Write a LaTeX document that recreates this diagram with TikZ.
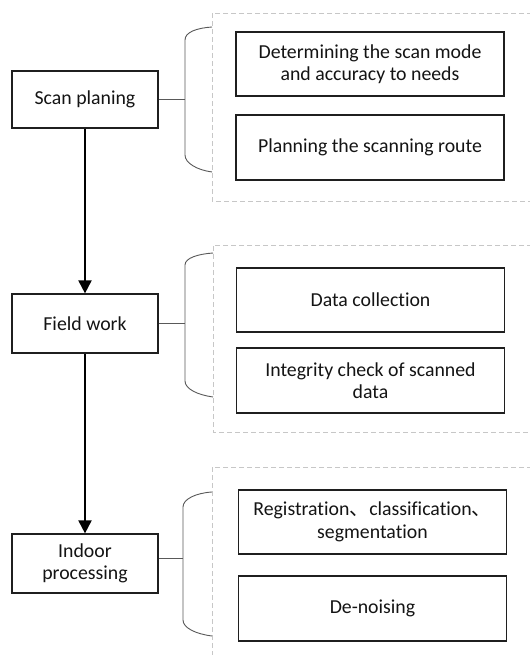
\documentclass[tikz,border=0pt]{standalone}
\usepackage{fontspec}
\setmainfont[Ligatures={NoCommon}]{Carlito}
\newfontfamily\cjk{Noto Sans CJK SC}
\usetikzlibrary{arrows.meta}
\begin{document}
\begin{tikzpicture}[x=1bp,y=-1bp,
  font=\fontsize{19.8bp}{22.5bp}\selectfont,
  mainbox/.style={draw=black!88,line width=1.2bp,minimum width=146bp,inner sep=0pt,align=center,text=black!92},
  subbox/.style={draw=black!88,line width=1.2bp,minimum width=268bp,inner sep=0pt,align=center,text=black!92},
  grp/.style={draw=black!22,dashed,dash pattern=on 5bp off 3bp,line width=0.8bp},
  brace/.style={draw=black!65,line width=0.9bp},
  flow/.style={draw=black,line width=2bp,-{Triangle[width=13bp,length=13bp]}}]
\useasboundingbox (0,0) rectangle (530,655);
\fill[white] (0,0) rectangle (530,655);

% group frames
\draw[grp] (540,13) -- (212,13) -- (212,201) -- (540,201);
\draw[grp] (540,245) -- (213,245) -- (213,432) -- (540,432);
\draw[grp] (540,467) -- (212,467) -- (212,665);

% main boxes
\node[mainbox,minimum height=57bp] (scan) at (85,99.5) {Scan planing};
\node[mainbox,minimum height=59bp] (field) at (85,323.5) {Field work};
\node[mainbox,minimum height=59bp] (indoor) at (85,563.5) {Indoor\\processing};

% sub boxes
\node[subbox,minimum height=64bp] (s1a) at (370,64) {Determining the scan mode\\and accuracy to needs};
\node[subbox,minimum height=65bp] (s1b) at (370,147.5) {Planning the scanning route};
\node[subbox,minimum height=64bp] (s2a) at (370.5,300) {Data collection};
\node[subbox,minimum height=65bp] (s2b) at (370.5,380.5) {Integrity check of scanned\\data};
\node[subbox,minimum height=64bp] (s3a) at (372.5,522) {Registration{\cjk 、}classification{\cjk 、}\\segmentation};
\node[subbox,minimum height=65bp] (s3b) at (372.5,608.5) {De-noising};

% braces
\coordinate (b1) at (185,99);
\coordinate (b2) at (185,324);
\coordinate (b3) at (183,558);
\draw[brace] (212,27) .. controls (197,28) and (185,32) .. (185,40) -- (185,155) .. controls (185,163) and (197,170) .. (212,172);
\draw[brace] (213,253) .. controls (198,254) and (185,258) .. (185,265) -- (185,381) .. controls (185,389) and (198,395) .. (213,397);
\draw[brace] (212,492) .. controls (196,493) and (183,499) .. (183,507) -- (183,620) .. controls (183,628) and (196,634) .. (212,636);

% connectors
\draw[brace] (scan.east) -- (scan.east -| b1);
\draw[brace] (field.east) -- (field.east -| b2);
\draw[brace] (indoor.east |- b3) -- (b3);

% flow arrows
\draw[flow] (scan.south) -- (field.north);
\draw[flow] (field.south) -- (indoor.north);
\end{tikzpicture}
\end{document}
